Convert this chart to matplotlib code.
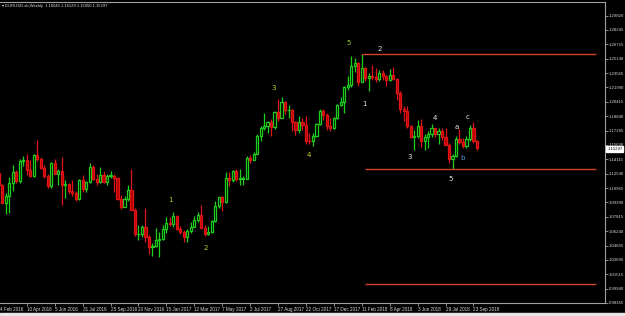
import matplotlib
matplotlib.use("Agg")
import matplotlib.pyplot as plt
import numpy as np

# Weekly EURUSD candles, week index 1 = week of 14 Feb 2016 ... 138 = week of 30 Sep 2018
opens = [1.1255, 1.1130, 1.0930, 1.1003, 1.1150, 1.1270, 1.1170, 1.1390, 1.1400, 1.1285, 1.1225,
         1.1455, 1.1405, 1.1310, 1.1225, 1.1115, 1.1365, 1.1250, 1.1275, 1.1120, 1.1135, 1.1055,
         1.1040, 1.0975, 1.1175, 1.1085, 1.1160, 1.1325, 1.1195, 1.1155, 1.1235, 1.1155, 1.1225,
         1.1225, 1.1200, 1.0970, 1.0885, 1.0975, 1.1065, 1.0855, 1.0585, 1.0590, 1.0665, 1.0560,
         1.0450, 1.0455,
         1.0520, 1.0530, 1.0640, 1.0705, 1.0695, 1.0785, 1.0640, 1.0615, 1.0560, 1.0620, 1.0670,
         1.0740, 1.0800, 1.0650, 1.0590, 1.0615, 1.0725, 1.0895, 1.0995, 1.0935, 1.1205, 1.1185,
         1.1280, 1.1195, 1.1195, 1.1195, 1.1425, 1.1400, 1.1470, 1.1665, 1.1750, 1.1775, 1.1820,
         1.1760, 1.1925, 1.1860, 1.2035, 1.1945, 1.1950, 1.1815, 1.1730, 1.1820, 1.1785, 1.1610,
         1.1605, 1.1665, 1.1795, 1.1935, 1.1895, 1.1770, 1.1750, 1.1860, 1.2005,
         1.2030, 1.2200, 1.2220, 1.2425, 1.2460, 1.2250, 1.2405, 1.2295, 1.2315, 1.2305, 1.2290,
         1.2355, 1.2320, 1.2280, 1.2330, 1.2290, 1.2130, 1.1960, 1.1940, 1.1770, 1.1650, 1.1660,
         1.1770, 1.1605, 1.1655, 1.1685, 1.1745, 1.1685, 1.1720, 1.1655, 1.1565, 1.1410, 1.1440,
         1.1625, 1.1600, 1.1550, 1.1625, 1.1745, 1.16045]
closes = [1.1130, 1.0930, 1.1003, 1.1150, 1.1270, 1.1170, 1.1390, 1.1400, 1.1285, 1.1225, 1.1455,
          1.1405, 1.1310, 1.1225, 1.1115, 1.1365, 1.1250, 1.1275, 1.1120, 1.1135, 1.1055, 1.1040,
          1.0975, 1.1175, 1.1085, 1.1160, 1.1325, 1.1195, 1.1155, 1.1235, 1.1155, 1.1225, 1.1225,
          1.1200, 1.0970, 1.0885, 1.0975, 1.1065, 1.0855, 1.0585, 1.0590, 1.0665, 1.0560, 1.0450,
          1.0455, 1.0520,
          1.0530, 1.0640, 1.0705, 1.0695, 1.0785, 1.0640, 1.0615, 1.0560, 1.0620, 1.0670, 1.0740,
          1.0800, 1.0650, 1.0590, 1.0615, 1.0725, 1.0895, 1.0995, 1.0935, 1.1205, 1.1185, 1.1280,
          1.1195, 1.1195, 1.1195, 1.1425, 1.1400, 1.1470, 1.1665, 1.1750, 1.1775, 1.1820, 1.1760,
          1.1925, 1.1860, 1.2035, 1.1945, 1.1950, 1.1815, 1.1730, 1.1820, 1.1785, 1.1610, 1.1605,
          1.1665, 1.1795, 1.1935, 1.1895, 1.1770, 1.1750, 1.1860, 1.2005, 1.2030,
          1.2200, 1.2220, 1.2425, 1.2460, 1.2250, 1.2405, 1.2295, 1.2315, 1.2305, 1.2290, 1.2355,
          1.2320, 1.2280, 1.2330, 1.2290, 1.2130, 1.1960, 1.1940, 1.1770, 1.1650, 1.1660, 1.1770,
          1.1605, 1.1655, 1.1685, 1.1745, 1.1685, 1.1720, 1.1655, 1.1565, 1.1410, 1.1440, 1.1625,
          1.1600, 1.1550, 1.1625, 1.1745, 1.1605, 1.15297]
highs = [1.1260, 1.1140, 1.1035, 1.1218, 1.1342, 1.1290, 1.1410, 1.1440, 1.1465, 1.1400, 1.1462,
         1.1616, 1.1430, 1.1340, 1.1240, 1.1375, 1.1415, 1.1300, 1.1427, 1.1180, 1.1150, 1.1185,
         1.1060, 1.1190, 1.1235, 1.1170, 1.1366, 1.1340, 1.1240, 1.1327, 1.1280, 1.1240, 1.1278,
         1.1245, 1.1210, 1.1010, 1.1000, 1.1125, 1.1300, 1.0870, 1.0685, 1.0690, 1.0875, 1.0580,
         1.0490, 1.0653,
         1.0615, 1.0685, 1.0775, 1.0770, 1.0830, 1.0800, 1.0680, 1.0630, 1.0640, 1.0715, 1.0780,
         1.0830, 1.0905, 1.0690, 1.0680, 1.0740, 1.0950, 1.0990, 1.1000, 1.1265, 1.1270, 1.1285,
         1.1295, 1.1295, 1.1220, 1.1445, 1.1450, 1.1490, 1.1685, 1.1775, 1.1910, 1.1830, 1.1850,
         1.1940, 1.2070, 1.2092, 1.2045, 1.2000, 1.1960, 1.1830, 1.1880, 1.1860, 1.1880, 1.1690,
         1.1690, 1.1800, 1.1960, 1.1960, 1.1910, 1.1863, 1.1870, 1.2010, 1.2088,
         1.2215, 1.2323, 1.2537, 1.2520, 1.2475, 1.2555, 1.2415, 1.2350, 1.2445, 1.2412, 1.2388,
         1.2380, 1.2330, 1.2396, 1.2415, 1.2300, 1.2150, 1.1995, 1.1995, 1.1780, 1.1730, 1.1840,
         1.1852, 1.1680, 1.1720, 1.1790, 1.1750, 1.1750, 1.1750, 1.1745, 1.1580, 1.1470, 1.1660,
         1.1734, 1.1640, 1.1660, 1.1787, 1.1815, 1.16129]
lows = [1.1070, 1.0950, 1.0810, 1.0822, 1.1060, 1.1145, 1.1145, 1.1330, 1.1235, 1.1215, 1.1215,
        1.1385, 1.1300, 1.1200, 1.1096, 1.1095, 1.1245, 1.1130, 1.0911, 1.0985, 1.1030, 1.1000,
        1.0952, 1.0960, 1.1045, 1.1045, 1.1150, 1.1185, 1.1120, 1.1150, 1.1150, 1.1120, 1.1200,
        1.1045, 1.0965, 1.0860, 1.0880, 1.0945, 1.0850, 1.0570, 1.0518, 1.0550, 1.0505, 1.0365,
        1.0352, 1.0445,
        1.0340, 1.0525, 1.0600, 1.0680, 1.0660, 1.0630, 1.0590, 1.0495, 1.0495, 1.0600, 1.0660,
        1.0720, 1.0650, 1.0570, 1.0580, 1.0600, 1.0720, 1.0870, 1.0840, 1.0930, 1.1110, 1.1160,
        1.1170, 1.1120, 1.1120, 1.1190, 1.1370, 1.1400, 1.1460, 1.1610, 1.1730, 1.1690, 1.1660,
        1.1740, 1.1830, 1.1860, 1.1900, 1.1860, 1.1717, 1.1670, 1.1700, 1.1730, 1.1575, 1.1575,
        1.1555, 1.1650, 1.1780, 1.1835, 1.1729, 1.1720, 1.1740, 1.1850, 1.1990,
        1.1915, 1.2165, 1.2200, 1.2360, 1.2205, 1.2250, 1.2260, 1.2155, 1.2275, 1.2255, 1.2260,
        1.2280, 1.2215, 1.2260, 1.2280, 1.2055, 1.1910, 1.1822, 1.1750, 1.1645, 1.1510, 1.1640,
        1.1542, 1.1508, 1.1527, 1.1650, 1.1650, 1.1575, 1.1620, 1.1560, 1.1365, 1.1300, 1.1430,
        1.1575, 1.1525, 1.1525, 1.1610, 1.1590, 1.15050]

date_ticks = [9, 17, 25, 33, 41, 49, 57, 65, 73, 81, 89, 97, 105, 113, 121, 129, 137]
date_labels = ["10 Apr 2016", "5 Jun 2016", "31 Jul 2016", "25 Sep 2016", "20 Nov 2016",
               "15 Jan 2017", "12 Mar 2017", "7 May 2017", "2 Jul 2017", "27 Aug 2017",
               "22 Oct 2017", "17 Dec 2017", "11 Feb 2018", "8 Apr 2018", "3 Jun 2018",
               "29 Jul 2018", "23 Sep 2018"]
first_label = "4 Feb 2016"

price_ticks = [1.29820, 1.28245, 1.26670, 1.25095, 1.23520, 1.21945, 1.20370, 1.18795,
               1.17220, 1.15645, 1.14070, 1.12495, 1.10920, 1.09345, 1.07770, 1.06195,
               1.04620, 1.03045, 1.01470, 0.99895, 0.98320]
price_tick_labels = ["1.29820", "1.28245", "1.26715", "1.25140", "1.23565", "1.21990",
                     "1.20415", "1.18840", "1.17265", "1.15690", "1.14115", "1.12540",
                     "1.10965", "1.09390", "1.07815", "1.06240", "1.04665", "1.03090",
                     "1.01515", "0.99940", "0.98365"]

# Elliott wave labels: (text, week index, price)
wave_text = ["1", "2", "3", "4", "5", "1", "2", "3", "4", "5", "a", "b", "c"]
wave_week = [50.3, 60.3, 79.8, 89.9, 101.3, 105.9, 110.2, 118.8, 126.0, 130.5, 132.3, 134.0, 135.4]
wave_price = [1.0964, 1.0438, 1.2189, 1.1456, 1.2681, 1.2014, 1.2615, 1.1434, 1.1861, 1.1193,
              1.1762, 1.1423, 1.1872]
wave_color = ["#C8C832", "#C8C832", "#C8C832", "#C8C832", "#9ACD32", "#E6E6E6", "#E6E6E6",
              "#E6E6E6", "#E6E6E6", "#E6E6E6", "#E6E6E6", "#5B9BD5", "#E6E6E6"]

# Horizontal levels: price, start week, end week
level_price = [1.2555, 1.1300, 1.0045]
level_start = [105.0, 105.8, 105.8]
level_end = [172.0, 172.0, 172.0]

title = "EURUSD.sb,Weekly  1.16045 1.16129 1.15050 1.15297"
last_price = 1.15297

plt.rcParams["font.family"] = ["Liberation Sans", "DejaVu Sans"]

W, H = 625, 316
fig = plt.figure(figsize=(W / 100, H / 100), dpi=100, facecolor="black")
ax = fig.add_axes([0, (316 - 303) / H, 605 / W, (303 - 2) / H])
ax.set_facecolor("black")

weeks = np.arange(1, len(opens) + 1)
o = np.array(opens); c = np.array(closes); hi = np.array(highs); lo = np.array(lows)
up = c >= o
body_w = 0.62

ax.vlines(weeks[up], lo[up], hi[up], color="#1ED01E", lw=0.9, zorder=2)
ax.vlines(weeks[~up], lo[~up], hi[~up], color="#E01414", lw=0.9, zorder=2)
bh = np.maximum(np.abs(c - o), 0.0004)
bb = np.minimum(o, c)
ax.bar(weeks[up], bh[up], bottom=bb[up], width=body_w, color="black",
       edgecolor="#1ED01E", linewidth=0.9, zorder=3)
ax.bar(weeks[~up], bh[~up], bottom=bb[~up], width=body_w, color="#B40000",
       edgecolor="#E01414", linewidth=0.9, zorder=3)

for p, s, e in zip(level_price, level_start, level_end):
    ax.hlines(p, s, e, color="#D2421E", lw=1.0, zorder=4)

for t, wx, wp, col in zip(wave_text, wave_week, wave_price, wave_color):
    ax.text(wx, wp, t, color=col, fontsize=5, ha="center", va="center", zorder=5,
            family="DejaVu Sans")

ax.set_xlim(1.32, 174.7)
ax.set_ylim(0.9837, 1.3130)

ax.yaxis.tick_right()
ax.set_yticks(price_ticks)
ax.set_yticklabels(price_tick_labels)
ax.set_xticks(date_ticks)
ax.set_xticklabels(date_labels)
ax.tick_params(axis="y", colors="#A0A0A0", labelcolor="#D8D8D8", labelsize=3.1, length=1.8,
               width=0.6, pad=0.8)
ax.tick_params(axis="x", colors="#A0A0A0", labelcolor="#D8D8D8", labelsize=3.3, length=2,
               width=0.6, pad=1.0)
for lab in ax.get_xticklabels():
    lab.set_horizontalalignment("left")
ax.text(0.0, -0.012, first_label, transform=ax.transAxes, color="#D8D8D8", fontsize=3.3,
        ha="left", va="top")

ax.spines["left"].set_visible(False)
for side in ["right", "bottom", "top"]:
    ax.spines[side].set_color("#A0A0A0")
    ax.spines[side].set_linewidth(0.8)

# current price box (covers the nearby scale label, as in the terminal)
ax.annotate("1.15297", xy=(1.0, last_price), xycoords=("axes fraction", "data"),
            xytext=(1.6, -0.6), textcoords="offset points", fontsize=3.1, color="black",
            va="center", ha="left", annotation_clip=False, zorder=10,
            bbox=dict(boxstyle="square,pad=0.2", fc="white", ec="white"))

fig.text(0.004, 0.981, "\u25be " + title, color="#E0E0E0", fontsize=3.0, ha="left",
         va="center", family=["Liberation Sans", "DejaVu Sans"])

# light window border at the bottom
fig.patches.append(plt.Rectangle((0, 0), 1, 3 / H, transform=fig.transFigure,
                                 color="#E8E8E8", zorder=0))

fig.savefig("out.png", dpi=100, facecolor="black")
